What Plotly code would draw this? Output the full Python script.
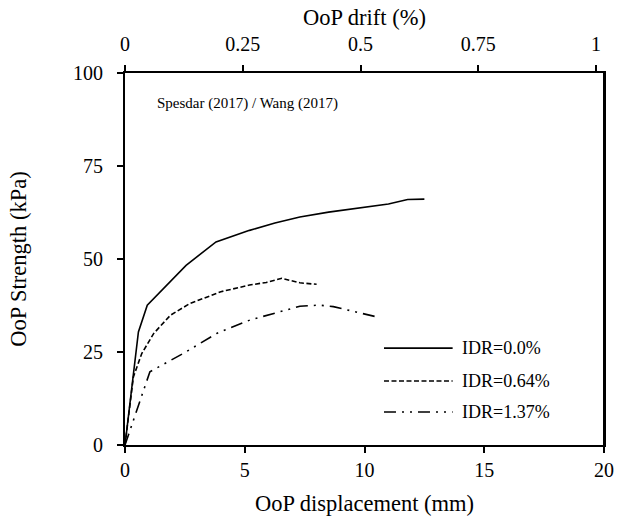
import plotly.graph_objects as go

# Out-of-plane displacement (mm) vs. strength (kPa) for three in-plane drift levels
disp_idr00 = [0, 0.56, 0.93, 2.55, 3.8, 5.2, 6.26, 7.3, 8.5, 9.8, 11.0, 11.8, 12.5]
str_idr00 = [0, 30.4, 37.6, 48.3, 54.6, 57.7, 59.7, 61.3, 62.6, 63.8, 64.8, 66.0, 66.1]

disp_idr064 = [0, 0.35, 0.7, 1.2, 1.9, 2.7, 4.0, 5.2, 5.9, 6.55, 7.3, 8.0]
str_idr064 = [0, 18.3, 24.6, 30.0, 34.9, 38.0, 41.2, 43.0, 43.7, 44.8, 43.6, 43.2]

disp_idr137 = [0, 0.49, 1.04, 2.43, 3.83, 5.22, 6.47, 7.3, 8.1, 8.7, 10.6]
str_idr137 = [0, 9.4, 19.7, 24.6, 30.0, 33.6, 35.8, 37.3, 37.6, 37.2, 34.3]

series_names = ["IDR=0.0%", "IDR=0.64%", "IDR=1.37%"]
dash_styles = ["solid", "5px,2.5px", "12px,6px,2px,6px,2px,6px"]

x_ticks = [0, 5, 10, 15, 20]
y_ticks = [0, 25, 50, 75, 100]
drift_ticks = [0, 0.25, 0.5, 0.75, 1]

FONT = "Liberation Serif"
TICK_SIZE = 20
TITLE_SIZE = 22.5
LEGEND_SIZE = 18
NOTE_SIZE = 15

fig = go.Figure()
for xs, ys, dash in zip([disp_idr00, disp_idr064, disp_idr137],
                        [str_idr00, str_idr064, str_idr137], dash_styles):
    fig.add_trace(go.Scatter(x=xs, y=ys, mode="lines", showlegend=False,
                             line=dict(color="black", width=1.6, dash=dash)))

# dummy trace to activate the top (drift) axis
fig.add_trace(go.Scatter(x=[0], y=[0], xaxis="x2", mode="markers",
                         marker=dict(opacity=0), showlegend=False, hoverinfo="skip"))

axis_common = dict(showgrid=False, zeroline=False, showline=True, linecolor="black",
                   linewidth=2, ticks="outside", ticklen=6, tickwidth=1.5,
                   tickcolor="black", automargin=False,
                   tickfont=dict(family=FONT, size=TICK_SIZE, color="black"))

fig.update_layout(
    width=619, height=521,
    margin=dict(l=125, r=15, t=73, b=76),
    paper_bgcolor="white", plot_bgcolor="white",
    xaxis=dict(range=[0, 20], tickvals=x_ticks, ticklabelstandoff=0, **axis_common,
               title=dict(text="OoP displacement (mm)",
                          font=dict(family=FONT, size=TITLE_SIZE, color="black"),
                          standoff=15)),
    xaxis2=dict(range=[0, 1.017], tickvals=drift_ticks,
                ticktext=["0", "0.25", "0.5", "0.75", "1"],
                overlaying="x", side="top", ticklabelstandoff=6, **axis_common,
                title=dict(text="OoP drift (%)",
                           font=dict(family=FONT, size=TITLE_SIZE, color="black"),
                           standoff=1)),
    yaxis=dict(range=[0, 100], tickvals=y_ticks, mirror=True, ticklabelstandoff=10,
               **axis_common,
               title=dict(text="OoP Strength (kPa)",
                          font=dict(family=FONT, size=TITLE_SIZE, color="black"),
                          standoff=40)),
)
# right border without ticks
fig.add_shape(type="line", xref="paper", yref="paper", x0=1, x1=1, y0=0, y1=1,
              line=dict(color="black", width=2))

fig.add_annotation(text="Spesdar (2017) / Wang (2017)", xref="paper", yref="paper",
                   x=0.0626, y=0.919, xanchor="left", yanchor="middle", showarrow=False,
                   font=dict(family=FONT, size=NOTE_SIZE, color="black"))

# hand-drawn legend with long line samples
legend_y = [0.2605, 0.1719, 0.0886]
for name, dash, ly in zip(series_names, dash_styles, legend_y):
    fig.add_shape(type="line", xref="paper", yref="paper", x0=0.5407, x1=0.684,
                  y0=ly, y1=ly, line=dict(color="black", width=1.6, dash=dash))
    fig.add_annotation(text=name, xref="paper", yref="paper", x=0.6994, y=ly,
                       xanchor="left", yanchor="middle", showarrow=False,
                       font=dict(family=FONT, size=LEGEND_SIZE, color="black"))

fig.write_html("out.html")
